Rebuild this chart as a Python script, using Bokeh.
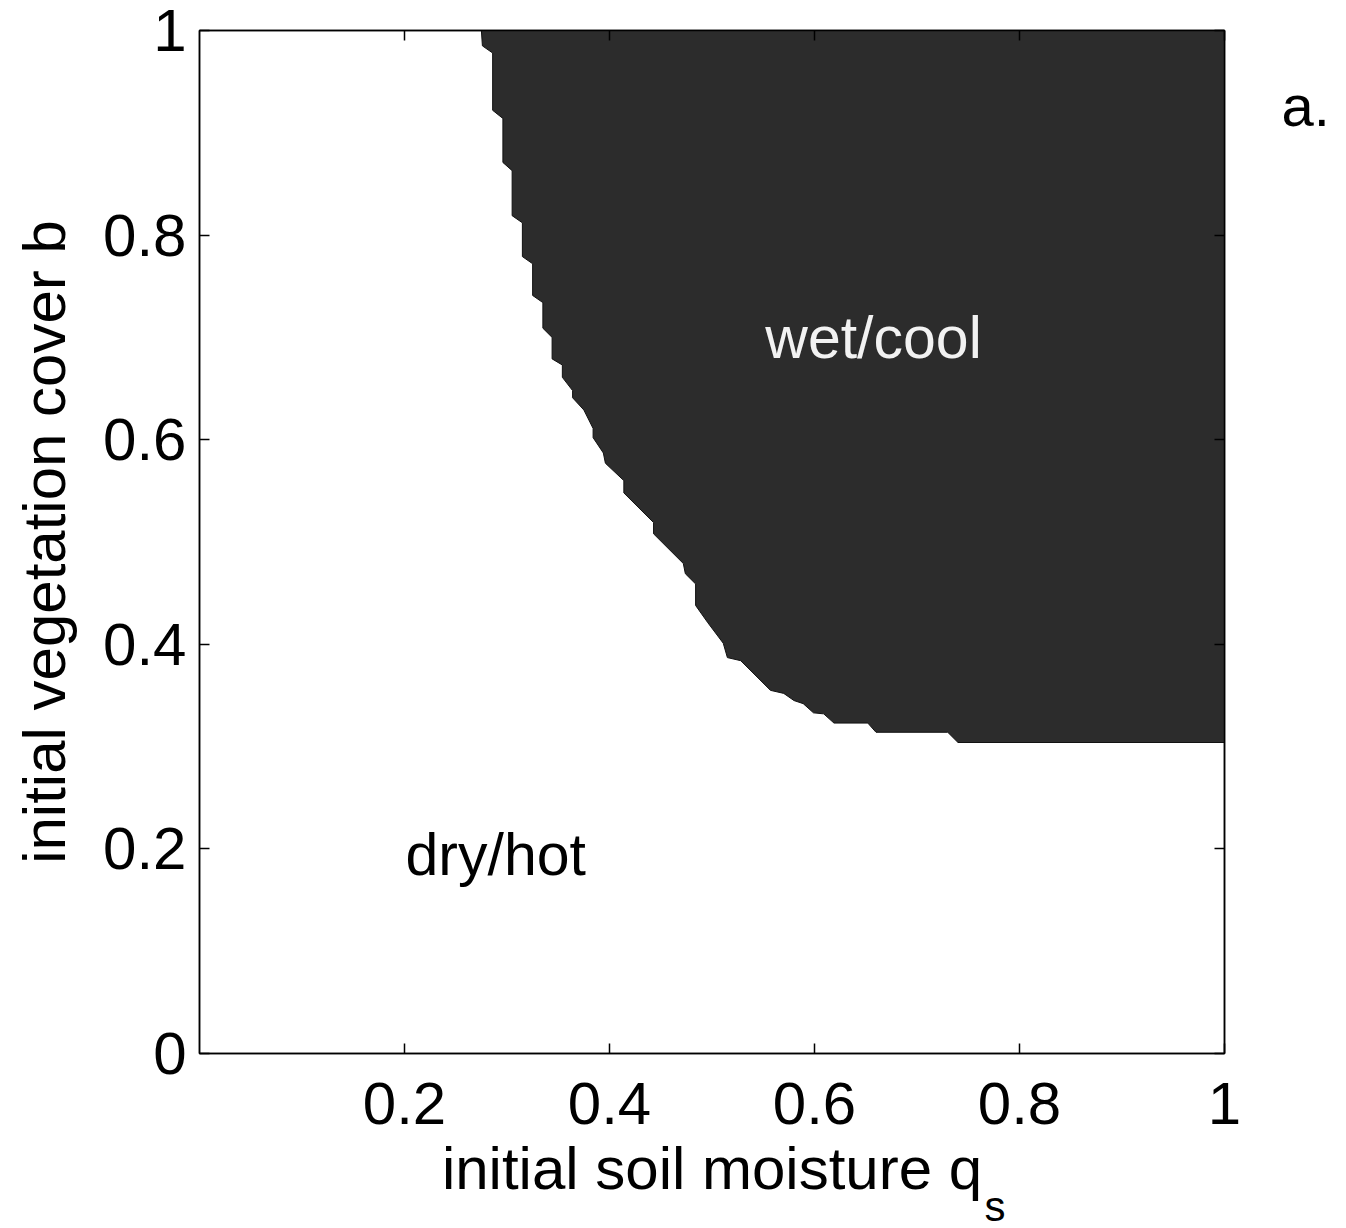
from bokeh.plotting import figure
from bokeh.models import Range1d, FixedTicker, LinearAxis, Label
from bokeh.embed import file_html
from bokeh.resources import INLINE

# Boundary between the "dry/hot" and "wet/cool" basins (qs, b), top to bottom-right
boundary_qs = [0.275, 0.276, 0.286, 0.286, 0.296, 0.296, 0.305, 0.305, 0.315, 0.315,
               0.325, 0.325, 0.335, 0.335, 0.344, 0.344, 0.354, 0.354, 0.364, 0.364,
               0.375, 0.384, 0.384, 0.394, 0.396, 0.414, 0.414, 0.443, 0.443, 0.472,
               0.474, 0.484, 0.484, 0.496, 0.511, 0.515, 0.528, 0.557, 0.570, 0.580,
               0.589, 0.599, 0.609, 0.619, 0.652, 0.660, 0.730, 0.740, 1.0]
boundary_b = [1.0, 0.985, 0.978, 0.922, 0.914, 0.871, 0.863, 0.819, 0.812, 0.779,
              0.772, 0.741, 0.734, 0.709, 0.700, 0.679, 0.673, 0.661, 0.648, 0.641,
              0.629, 0.611, 0.602, 0.587, 0.577, 0.560, 0.548, 0.519, 0.508, 0.479,
              0.469, 0.459, 0.438, 0.421, 0.401, 0.387, 0.384, 0.355, 0.352, 0.345,
              0.342, 0.333, 0.332, 0.323, 0.323, 0.314, 0.314, 0.304, 0.304]

x_ticks = [0.2, 0.4, 0.6, 0.8, 1.0]
y_ticks = [0.0, 0.2, 0.4, 0.6, 0.8, 1.0]
x_tick_labels = ["0.2", "0.4", "0.6", "0.8", "1"]
y_tick_labels = ["0", "0.2", "0.4", "0.6", "0.8", "1"]

FONT = "Liberation Sans"
TICK_SIZE = "60px"
LABEL_SIZE = "60px"

p = figure(width=1346, height=1228, output_backend="svg", toolbar_location=None,
           x_range=Range1d(0, 1), y_range=Range1d(0, 1),
           min_border_left=199, min_border_right=122, min_border_top=30, min_border_bottom=175,
           x_axis_label="initial soil moisture q", y_axis_label="initial vegetation cover b")
p.grid.visible = False
p.outline_line_color = "black"
p.outline_line_width = 1.5
p.background_fill_color = "white"
p.border_fill_color = "white"

# wet/cool region polygon
poly_x = boundary_qs + [1.0]
poly_y = boundary_b + [1.0]
p.patch(poly_x, poly_y, fill_color="#2c2c2c", line_color="#111111", line_width=1)

def style_axis(ax, ticks, labels, show_labels=True):
    ax.ticker = FixedTicker(ticks=ticks)
    ax.major_label_overrides = {t: l for t, l in zip(ticks, labels)}
    ax.major_tick_in = 10
    ax.major_tick_out = 0
    ax.minor_tick_line_color = None
    ax.axis_line_color = "black"
    ax.axis_line_width = 1.5
    ax.major_tick_line_color = "black"
    ax.major_tick_line_width = 1.5
    ax.major_label_text_font = FONT
    ax.major_label_text_font_size = TICK_SIZE
    ax.major_label_text_color = "black"
    ax.axis_label_text_font = FONT
    ax.axis_label_text_font_size = LABEL_SIZE
    ax.axis_label_text_font_style = "normal"
    ax.axis_label_text_color = "black"
    if not show_labels:
        ax.major_label_text_font_size = "0px"

style_axis(p.xaxis[0], x_ticks, x_tick_labels)
style_axis(p.yaxis[0], y_ticks, y_tick_labels)
p.xaxis[0].major_label_standoff = 29
p.xaxis[0].axis_label_standoff = 8
p.yaxis[0].major_label_standoff = 13
p.yaxis[0].axis_label_standoff = 22

top_ax = LinearAxis()
right_ax = LinearAxis()
style_axis(top_ax, x_ticks, x_tick_labels, show_labels=False)
style_axis(right_ax, y_ticks, y_tick_labels, show_labels=False)
top_ax.major_label_text_color = None
right_ax.major_label_text_color = None
top_ax.major_label_standoff = 0
right_ax.major_label_standoff = 0
p.add_layout(top_ax, "above")
p.add_layout(right_ax, "right")

# region labels
p.add_layout(Label(x=0.552, y=0.667, text="wet/cool", text_font=FONT, text_font_size="59px",
                   text_color="#f2f2f2"))
p.add_layout(Label(x=0.201, y=0.162, text="dry/hot", text_font=FONT, text_font_size="59px",
                   text_color="black"))
# panel letter in the right side panel
p.add_layout(Label(x=57, y=916, x_units="screen", y_units="screen", text="a.",
                   text_font=FONT, text_font_size="58px", text_color="black"), "right")
# subscript of q_s, hosted in the right side panel (unclipped), offset into the bottom margin
p.add_layout(Label(x=-288, y=-176, x_units="screen", y_units="screen", text="s",
                   text_font=FONT, text_font_size="42px", text_color="black"), "right")

open("out.html", "w").write(file_html(p, INLINE))
